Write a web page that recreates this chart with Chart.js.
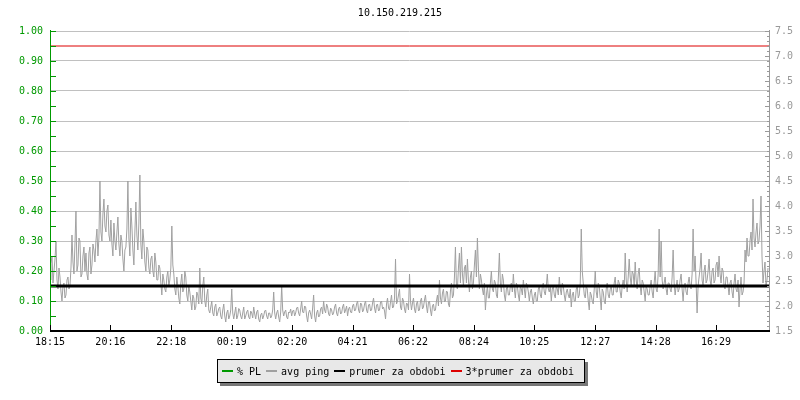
<!DOCTYPE html>
<html>
<head>
<meta charset="utf-8">
<script src="https://cdn.jsdelivr.net/npm/chart.js@4.4.1/dist/chart.umd.min.js"></script>
<style>
  body { margin: 0; background: #fff; }
  #wrap { position: relative; width: 800px; height: 400px; }
  #legend {
    position: absolute; left: 217px; top: 359px; width: 362px; height: 22px;
    background: #e8e8e8; border: 1px solid #000; box-shadow: 3px 3px 0 #777;
    display: flex; align-items: center; padding-left: 4px; box-sizing: content-box;
    font: 10px "DejaVu Sans Mono", monospace; color: #000; white-space: pre;
  }
  #legend span.sw { display: inline-block; width: 11px; height: 2px; margin-right: 4px; }
  #legend span.it { display: inline-flex; align-items: center; margin-right: 5px; }
</style>
</head>
<body>
<div id="wrap">
  <canvas id="myChart" width="800" height="400"></canvas>
  <div id="legend"></div>
</div>
<script>
const chartTitle = '10.150.219.215';
const tickMinutes = [0, 121, 243, 364, 485, 606, 727, 849, 970, 1092, 1213, 1334];
const tickLabels = ['18:15', '20:16', '22:18', '00:19', '02:20', '04:21', '06:22', '08:24', '10:25', '12:27', '14:28', '16:29'];
const sampleStep = 2; // minutes between samples
const avgPing = [
  2.52,2.85,3.00,2.46,2.70,2.94,3.30,2.52,2.34,2.76,2.58,2.28,2.10,2.40,2.46,2.16,2.22,2.52,2.58,2.34,
  2.40,2.76,3.42,2.88,2.64,3.24,3.90,2.70,2.82,3.36,3.30,2.58,2.64,3.00,3.18,2.70,3.06,2.64,2.52,3.06,
  3.18,2.64,2.82,3.24,3.12,2.88,3.30,3.54,3.00,3.36,4.50,3.48,3.30,3.84,4.14,3.60,3.48,3.90,4.02,3.42,
  3.30,3.72,3.24,3.00,3.66,3.30,3.12,3.48,3.78,3.24,3.00,3.42,3.30,2.94,2.70,3.12,3.18,3.54,4.50,3.36,
  3.00,3.96,3.60,3.12,2.82,3.48,4.08,3.42,3.12,3.66,4.62,3.24,2.94,3.54,3.30,2.88,2.70,3.18,3.12,2.76,
  2.64,2.94,3.00,2.70,2.58,3.06,2.88,2.52,2.52,2.82,2.76,2.46,2.22,2.64,2.52,2.34,2.28,2.58,2.70,2.40,
  2.52,2.76,3.60,2.82,2.64,2.34,2.22,2.58,2.40,2.16,2.04,2.46,2.64,2.28,2.34,2.70,2.58,2.22,2.10,2.40,
  2.28,2.10,1.92,2.22,2.16,1.92,1.98,2.28,2.22,2.04,2.76,2.16,2.04,2.40,2.58,2.10,1.98,2.22,2.34,1.92,
  1.86,1.98,2.10,1.86,1.80,1.98,2.04,1.80,1.86,1.95,1.98,1.80,1.74,1.92,2.04,1.80,1.68,1.86,1.92,1.74,
  1.80,1.92,2.34,1.86,1.74,1.86,1.98,1.74,1.80,1.95,1.92,1.80,1.74,1.86,1.98,1.74,1.80,1.88,1.92,1.78,
  1.74,1.90,1.86,1.76,1.98,1.84,1.74,1.88,1.92,1.74,1.68,1.82,1.86,1.74,1.80,1.90,1.92,1.80,1.74,1.86,
  1.86,1.76,1.80,1.92,2.28,1.86,1.74,1.86,1.92,1.78,1.68,1.88,2.40,1.92,1.80,1.88,1.92,1.78,1.74,1.88,
  1.86,1.94,1.80,1.90,1.92,1.80,1.86,1.96,1.98,1.86,1.80,1.94,2.10,1.88,1.86,2.00,1.98,1.80,1.68,1.86,
  1.92,1.84,1.74,1.96,2.22,1.80,1.68,1.86,1.92,1.78,1.80,1.94,1.98,1.84,2.10,1.92,1.86,2.04,1.98,1.84,
  1.80,1.96,1.92,1.82,1.86,1.98,2.04,1.86,1.80,1.94,1.98,1.84,1.86,1.98,2.04,1.86,1.92,2.00,1.80,1.94,
  1.98,1.88,1.86,2.00,2.04,1.90,1.92,2.04,2.10,1.92,1.86,2.06,2.04,1.88,1.92,2.04,2.10,1.92,1.86,2.02,
  2.04,1.90,1.92,2.06,2.16,1.96,1.86,2.02,2.04,1.90,1.92,2.08,2.10,1.94,1.98,1.90,1.74,2.04,2.16,1.96,
  1.92,2.08,2.22,1.96,1.98,2.16,2.94,2.04,2.10,2.22,2.34,1.98,1.92,2.16,2.10,1.94,1.86,2.06,2.04,1.92,
  2.64,2.10,1.92,2.06,2.16,1.94,1.86,2.04,2.10,1.90,1.92,2.10,2.16,1.94,1.98,2.12,2.22,2.00,1.86,2.08,
  2.10,1.92,1.80,2.00,2.04,1.90,1.92,2.10,2.22,2.00,2.52,2.16,2.04,2.26,2.34,2.08,2.10,2.30,2.28,2.04,
  1.98,2.30,2.46,2.16,2.22,2.58,3.18,2.40,2.34,2.76,3.06,2.46,3.18,2.64,2.40,2.76,2.82,2.46,2.94,2.52,
  2.28,2.58,2.70,2.34,2.46,2.82,3.12,2.58,3.36,2.76,2.34,2.64,2.52,2.34,2.22,2.46,1.92,2.22,2.40,2.16,
  2.16,2.46,2.70,2.34,2.28,2.52,2.46,2.22,2.16,2.58,3.06,2.46,2.28,2.64,2.52,2.22,2.10,2.34,2.40,2.22,
  2.22,2.40,2.46,2.28,2.64,2.34,2.16,2.46,2.40,2.22,2.10,2.40,2.34,2.22,2.52,2.34,2.16,2.46,2.40,2.28,
  2.10,2.28,2.34,2.16,2.04,2.22,2.28,2.10,2.10,2.34,2.40,2.22,2.16,2.40,2.46,2.28,2.22,2.40,2.64,2.34,
  2.28,2.40,2.10,2.34,2.40,2.22,2.16,2.40,2.34,2.22,2.58,2.34,2.22,2.46,2.40,2.22,2.10,2.28,2.34,2.22,
  2.16,2.34,1.98,2.22,2.28,2.10,2.10,2.34,2.40,2.16,2.22,2.46,3.54,2.70,2.46,2.22,2.16,2.40,2.34,2.10,
  1.92,2.28,2.22,2.10,2.04,2.34,2.70,2.28,2.16,2.46,2.40,2.16,1.92,2.34,2.28,2.10,2.04,2.34,2.46,2.22,
  2.16,2.34,2.40,2.22,2.22,2.46,2.58,2.28,2.28,2.52,2.46,2.28,2.16,2.40,2.52,2.34,3.06,2.52,2.28,2.58,
  2.94,2.58,2.40,2.70,2.64,2.40,2.88,2.52,2.34,2.64,2.76,2.40,2.22,2.52,2.46,2.28,2.10,2.40,2.34,2.22,
  2.22,2.40,2.52,2.28,2.16,2.46,2.70,2.34,2.28,2.64,3.54,2.58,3.30,2.52,2.34,2.46,2.58,2.34,2.22,2.46,
  2.46,2.34,2.28,2.58,3.12,2.46,2.22,2.40,2.52,2.28,2.34,2.52,2.64,2.34,2.10,2.40,2.46,2.28,2.22,2.46,
  2.58,2.40,2.34,2.64,3.54,2.70,3.00,2.46,1.86,2.40,2.58,2.76,3.06,2.52,2.40,2.70,2.82,2.46,2.52,2.70,
  2.94,2.52,2.40,2.70,2.76,2.46,2.52,2.82,2.88,2.58,3.00,2.64,2.46,2.76,2.70,2.40,2.34,2.58,2.58,2.40,
  2.22,2.46,2.52,2.28,2.16,2.46,2.64,2.34,2.28,2.52,1.98,2.34,2.58,2.22,2.28,2.46,3.12,2.88,3.36,3.00,
  3.00,3.30,3.48,3.12,4.14,3.36,3.18,3.48,3.66,3.24,3.30,3.60,4.20,3.00,2.46,2.70,2.88,2.40,2.52,2.76
];
const packetLoss = [0, 0];
const packetLossMinutes = [0, 1438];
const meanPing = 2.4;
const tripleMeanPing = 7.2;
const rangeMinutes = [0, 1440];

const FONT = { family: '"DejaVu Sans Mono", monospace', size: 10 };
const GREEN = '#009900';

const axesPlugin = {
  id: 'axes',
  afterDatasetsDraw(chart) {
    const { ctx, chartArea: a, scales } = chart;
    ctx.save();
    ctx.lineWidth = 1;
    // left axis (green) with inward ticks every 0.05
    ctx.strokeStyle = GREEN;
    ctx.beginPath();
    ctx.moveTo(a.left + 0.5, a.top - 1);
    ctx.lineTo(a.left + 0.5, a.bottom);
    for (let k = 0; k <= 20; k++) {
      const y = Math.round(scales.y.getPixelForValue(k * 0.05)) + 0.5;
      ctx.moveTo(a.left, y);
      ctx.lineTo(a.left + 6, y);
    }
    ctx.stroke();
    // right axis (gray) with inward ticks every 0.1
    ctx.strokeStyle = '#999999';
    ctx.beginPath();
    ctx.moveTo(a.right + 0.5, a.top - 1);
    ctx.lineTo(a.right + 0.5, a.bottom);
    for (let k = 0; k <= 60; k++) {
      const y = Math.round(scales.y2.getPixelForValue(1.5 + k * 0.1)) + 0.5;
      const len = k % 5 === 0 ? 5 : 3;
      ctx.moveTo(a.right + 1, y);
      ctx.lineTo(a.right + 1 - len, y);
    }
    ctx.stroke();
    // bottom axis (black) with ticks pointing up
    ctx.strokeStyle = '#000';
    ctx.lineWidth = 2;
    ctx.beginPath();
    ctx.moveTo(a.left, a.bottom);
    ctx.lineTo(a.right + 1, a.bottom);
    ctx.stroke();
    ctx.lineWidth = 1;
    ctx.beginPath();
    tickMinutes.forEach(m => {
      const x = Math.round(scales.x.getPixelForValue(m)) + 0.5;
      ctx.moveTo(x, a.bottom);
      ctx.lineTo(x, a.bottom - 6);
    });
    ctx.stroke();
    ctx.restore();
  }
};

const ctx = document.getElementById('myChart').getContext('2d');
const myChart = new Chart(ctx, {
  type: 'line',
  data: {
    datasets: [{
      label: '% PL',
      data: packetLoss.map((v, i) => ({ x: packetLossMinutes[i], y: v })),
      yAxisID: 'y',
      borderColor: GREEN,
      borderWidth: 1,
      pointRadius: 0,
      fill: false,
      order: 4
    }, {
      label: 'avg ping',
      data: avgPing.map((v, i) => ({ x: i * sampleStep, y: v })),
      yAxisID: 'y2',
      borderColor: '#a0a0a0',
      borderWidth: 1,
      pointRadius: 0,
      fill: false,
      order: 3
    }, {
      label: 'prumer za obdobi',
      data: rangeMinutes.map(m => ({ x: m, y: meanPing })),
      yAxisID: 'y2',
      borderColor: '#000000',
      borderWidth: 3,
      pointRadius: 0,
      fill: false,
      order: 1
    }, {
      label: '3*prumer za obdobi',
      data: rangeMinutes.map(m => ({ x: m, y: tripleMeanPing })),
      yAxisID: 'y2',
      borderColor: '#dd0000',
      borderWidth: 1,
      pointRadius: 0,
      fill: false,
      order: 0
    }]
  },
  options: {
    responsive: false,
    devicePixelRatio: 1,
    animation: false,
    events: [],
    layout: { padding: 0 },
    plugins: {
      legend: { display: false },
      tooltip: { enabled: false },
      title: {
        display: true,
        text: chartTitle,
        color: '#000',
        font: { ...FONT, weight: 'normal' },
        padding: { top: 7, bottom: 12 }
      }
    },
    scales: {
      x: {
        type: 'linear',
        min: rangeMinutes[0],
        max: rangeMinutes[1],
        afterBuildTicks(s) { s.ticks = tickMinutes.map(v => ({ value: v })); },
        afterFit(s) { s.height = 69; },
        grid: { display: false, drawTicks: false },
        border: { display: false },
        ticks: {
          color: '#000', font: FONT, padding: 5, maxRotation: 0, autoSkip: false,
          callback: v => tickLabels[tickMinutes.indexOf(v)]
        }
      },
      y: {
        position: 'left',
        min: 0, max: 1,
        afterFit(s) { s.width = 50; },
        grid: { color: '#c0c0c0', drawTicks: false },
        border: { display: false },
        ticks: { stepSize: 0.1, color: GREEN, font: FONT, padding: 7, callback: v => v.toFixed(2) }
      },
      y2: {
        position: 'right',
        min: 1.5, max: 7.5,
        afterFit(s) { s.width = 31; },
        grid: { drawOnChartArea: false, drawTicks: false },
        border: { display: false },
        ticks: { stepSize: 0.5, color: '#999999', font: FONT, padding: 6, callback: v => v.toFixed(1) }
      }
    }
  },
  plugins: [axesPlugin]
});

// html legend built from the datasets
const legend = document.getElementById('legend');
myChart.data.datasets.forEach(ds => {
  const it = document.createElement('span');
  it.className = 'it';
  const sw = document.createElement('span');
  sw.className = 'sw';
  sw.style.background = ds.borderColor;
  it.appendChild(sw);
  it.appendChild(document.createTextNode(ds.label));
  legend.appendChild(it);
});
</script>
</body>
</html>
